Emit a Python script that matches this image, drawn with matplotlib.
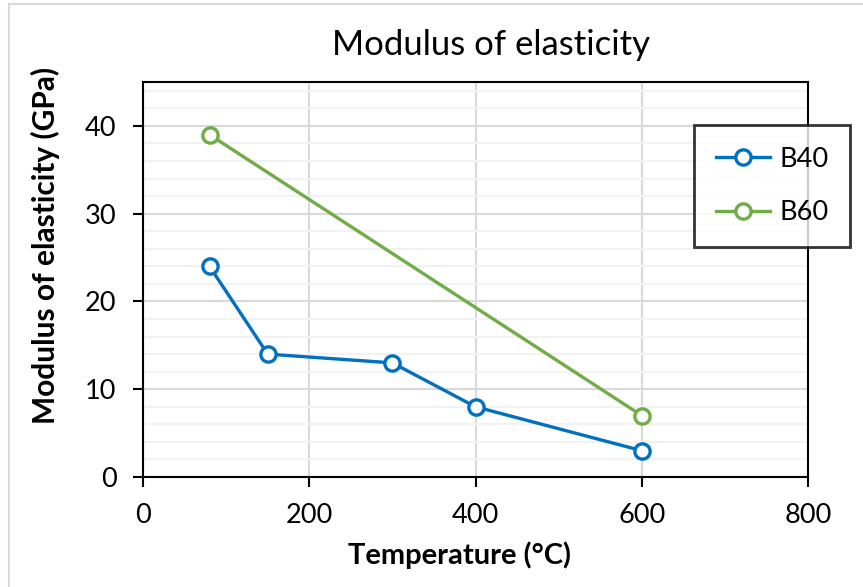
import matplotlib
matplotlib.use("Agg")
import matplotlib.pyplot as plt
from matplotlib.patches import Rectangle
from matplotlib.ticker import MultipleLocator

plt.rcParams['font.family'] = ['Lato', 'DejaVu Sans']

b40_temp = [80, 150, 300, 400, 600]
b40_mod = [24, 14, 13, 8, 3]
b60_temp = [80, 600]
b60_mod = [39, 7]
x_ticks = [0, 200, 400, 600, 800]
y_ticks = [0, 10, 20, 30, 40]

W, H = 863, 587
fig = plt.figure(figsize=(W / 100, H / 100), dpi=100)
fig.patches.append(Rectangle((9 / W, -0.1), 1.2, 1 - 4 / H + 0.1, transform=fig.transFigure,
                             fill=False, edgecolor='#d9d9d9', linewidth=1.5, zorder=0))

ax = fig.add_axes([143 / W, 1 - 477 / H, (808 - 143) / W, (477 - 82) / H])
ax.set_xlim(0, 800)
ax.set_ylim(0, 45)
ax.set_xticks(x_ticks)
ax.set_yticks(y_ticks)
ax.yaxis.set_minor_locator(MultipleLocator(2))
ax.grid(True, which='major', color='#d9d9d9', linewidth=1.5, zorder=0)
ax.grid(True, which='minor', axis='y', color='#f2f2f2', linewidth=1.5, zorder=0)
ax.tick_params(axis='both', which='major', direction='out', length=7, width=1.5,
               labelsize=19.5, pad=12, colors='black')
ax.tick_params(axis='y', which='minor', length=0)
for s in ax.spines.values():
    s.set_linewidth(1.5)
    s.set_color('black')
ax.set_axisbelow(True)

ax.plot(b40_temp, b40_mod, color='#0070C0', linewidth=2.4, marker='o', markersize=11,
        markerfacecolor='white', markeredgewidth=2.4, label='B40', zorder=3, clip_on=False)
ax.plot(b60_temp, b60_mod, color='#70AD47', linewidth=2.4, marker='o', markersize=11,
        markerfacecolor='white', markeredgewidth=2.4, label='B60', zorder=3, clip_on=False)

fig.text(491 / W, 1 - 45 / H, 'Modulus of elasticity', ha='center', va='center', fontsize=25)
ax.set_xlabel('Temperature (°C)', fontsize=21, fontweight='bold')
ax.xaxis.set_label_coords((459 - 143) / (808 - 143), -(555 - 477) / (477 - 82))
ax.set_ylabel('Modulus of elasticity (GPa)', fontsize=21.5, fontweight='bold')
ax.yaxis.set_label_coords(-(143 - 45) / (808 - 143), (477 - 245) / (477 - 82))
ax.xaxis.label.set_va('center')
ax.yaxis.label.set_va('center')

leg = ax.legend(loc='upper left', bbox_to_anchor=(694 / W, 1 - 125 / H),
                bbox_transform=fig.transFigure, fontsize=19.5, frameon=True, fancybox=False,
                edgecolor='black', handlelength=2.0, handletextpad=0.35, labelspacing=1.05,
                borderpad=0.8, borderaxespad=0)
leg.get_frame().set_linewidth(2)
leg.set_zorder(5)

fig.savefig('out.png', dpi=100)
